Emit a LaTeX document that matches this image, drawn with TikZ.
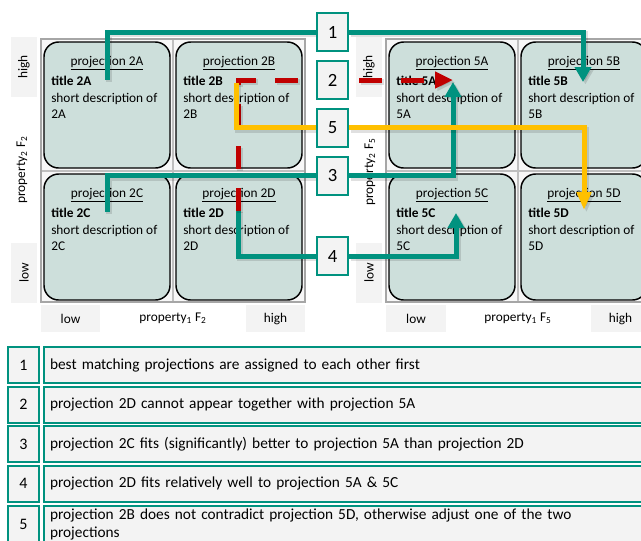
\documentclass[tikz,border=0pt]{standalone}
\usepackage{fontspec}
\setmainfont{Carlito}
\usetikzlibrary{arrows.meta}
\definecolor{tealc}{RGB}{0,146,127}
\definecolor{cellfill}{RGB}{205,223,219}
\definecolor{redc}{RGB}{192,0,0}
\definecolor{yelc}{RGB}{255,192,0}
\definecolor{lgray}{RGB}{243,243,243}
\definecolor{gridbg}{RGB}{247,247,247}
\definecolor{gridline}{RGB}{191,191,191}
\definecolor{frameline}{RGB}{166,166,166}
\pgfdeclarelayer{back}
\pgfdeclarelayer{mid}
\pgfsetlayers{back,mid,main}
\tikzset{
  cellbox/.style={draw=black, line width=1.1pt, fill=cellfill, rounded corners=11pt,
    minimum width=94.5pt, minimum height=94.5pt, inner sep=0pt},
  projlbl/.style={anchor=base, inner sep=0pt, font=\fontsize{10}{12}\selectfont},
  titlelbl/.style={anchor=base west, inner sep=0pt, font=\fontsize{10}{12}\selectfont\bfseries},
  desclbl/.style={anchor=base west, inner sep=0pt, font=\fontsize{10}{12}\selectfont},
  axlbl/.style={inner sep=0pt, font=\fontsize{10}{12}\selectfont},
  numbox/.style={draw=tealc, line width=1.5pt, fill=lgray, minimum width=23.25pt,
    minimum height=28.5pt, inner sep=0pt, font=\fontsize{14}{16}\selectfont},
  legnum/.style={draw=tealc, line width=1.5pt, fill=lgray, minimum width=23.25pt,
    minimum height=27pt, inner sep=0pt, font=\fontsize{12}{14}\selectfont},
  legtxt/.style={draw=tealc, line width=1.5pt, fill=lgray, anchor=west, text width=456pt,
    inner xsep=4.5pt, inner ysep=0pt, minimum height=27pt, align=left,
    font=\fontsize{11.5}{13.5}\selectfont},
  shadowed/.style={preaction={draw=black, opacity=0.12, line width=4.5pt,
    transform canvas={shift={(1.8pt,-1.8pt)}}}},
  redshadowed/.style={preaction={draw=black, opacity=0.12, line width=4.5pt,
    dash pattern=on 17.25pt off 14.25pt,
    transform canvas={shift={(1.8pt,-1.8pt)}}}},
  tealline/.style={draw=tealc, line width=3.75pt, shadowed},
  redline/.style={draw=redc, line width=3.75pt, dash pattern=on 17.25pt off 14.25pt, redshadowed},
  yelline/.style={draw=yelc, line width=3.75pt, shadowed},
  tealtip/.style={-{Triangle[length=11.25pt,width=12pt]}},
  redtip/.style={-{Triangle[length=13.5pt,width=12pt]}},
  yeltip/.style={-{Triangle[length=13.5pt,width=10.5pt]}},
}
\newcommand\projcell[3]{%
  \node[cellbox] (c#1) at (#2+66,#3+66) {};
  \node[projlbl] (pl#1) at (#2+66,#3+26) {\underline{projection #1}};
  \node[titlelbl] (t#1) at (#2+10,#3+46) {title #1};
  \node[desclbl] (d#1) at (#2+10,#3+63.5) {short description of};
  \node[desclbl] (e#1) at (#2+10,#3+79.5) {#1};
}
\newcommand\gridframe[2]{%
  \fill[gridbg] (#1,#2) rectangle (#1+264,#2+263);
  \draw[gridline, line width=1.2pt] (#1+132,#2) -- (#1+132,#2+263);
  \draw[gridline, line width=1.2pt] (#1,#2+132) -- (#1+264,#2+132);
  \draw[frameline, line width=2pt] (#1,#2) rectangle (#1+264,#2+263);
}
\begin{document}
\begin{tikzpicture}[x=0.75pt,y=-0.75pt]
\useasboundingbox (0,0) rectangle (641,540);
\clip (0,0) rectangle (641,540);

\begin{pgfonlayer}{back}
  \fill[white] (0,0) rectangle (641,540);
  % grids
  \gridframe{41}{39}
  \gridframe{386}{39}
  \projcell{2A}{41}{39}
  \projcell{2B}{173}{39}
  \projcell{2C}{41}{171}
  \projcell{2D}{173}{171}
  \projcell{5A}{386}{39}
  \projcell{5B}{518}{39}
  \projcell{5C}{386}{171}
  \projcell{5D}{518}{171}
  % axis label boxes
  \fill[lgray] (11,37) rectangle (37,97);
  \fill[lgray] (11,243) rectangle (37,303);
  \fill[lgray] (41,305) rectangle (100,332);
  \fill[lgray] (246,305) rectangle (305,332);
  \fill[lgray] (356,37) rectangle (382,97);
  \fill[lgray] (356,243) rectangle (382,303);
  \fill[lgray] (386,305) rectangle (446,332);
  \fill[lgray] (591,305) rectangle (650,332);
  \node[axlbl, rotate=90] (hiL) at (24,67) {high};
  \node[axlbl, rotate=90] (loL) at (24,273) {low};
  \node[axlbl, rotate=90] (prL) at (22,170) {property\textsubscript{2} F\textsubscript{2}};
  \node[axlbl] (loB) at (70.5,319) {low};
  \node[axlbl] (hiB) at (275.5,319) {high};
  \node[axlbl] (prB) at (173,318) {property\textsubscript{1} F\textsubscript{2}};
  \node[axlbl, rotate=90] (hiR) at (369,67) {high};
  \node[axlbl, rotate=90] (loR) at (369,273) {low};
  \node[axlbl, rotate=90] (prR) at (370,172) {property\textsubscript{2} F\textsubscript{5}};
  \node[axlbl] (loBR) at (416,319) {low};
  \node[axlbl] (hiBR) at (620.5,319) {high};
  \node[axlbl] (prBR) at (518,318) {property\textsubscript{1} F\textsubscript{5}};
\end{pgfonlayer}

% numbered boxes
\node[numbox] (n1) at (332.5,32) {1};
\node[numbox] (n2) at (332.5,80) {2};
\node[numbox] (n5) at (332.5,127.5) {5};
\node[numbox] (n3) at (332.5,175.5) {3};
\node[numbox] (n4) at (332.5,256) {4};

% connector end points
\coordinate (a2A) at (107,80);
\coordinate (a5B) at (583,82);
\coordinate (a2D) at (238,211);
\coordinate (a5Ar) at (453,80);
\coordinate (a2B) at (236,83);
\coordinate (a5D) at (584,210);
\coordinate (a2C) at (107,212);
\coordinate (a5At) at (453,82);
\coordinate (b2D) at (238,210);
\coordinate (a5C) at (456,213);

\begin{pgfonlayer}{mid}
  \draw[tealline] (n1.west) -| (a2A);
  \draw[tealline, tealtip] (n1.east) -| (a5B);
  \draw[tealline] (a2C) |- (n3.west);
  \draw[tealline, tealtip] (n3.east) -| (a5At);
  \draw[tealline] (b2D) |- (n4.west);
  \draw[tealline, tealtip] (n4.east) -| (a5C);
  \draw[redline, redtip] (a2D) |- (a5Ar);
  \draw[yelline] (a2B) |- (n5.west);
  \draw[yelline, yeltip] (n5.east) -| (a5D);
\end{pgfonlayer}

% legend
\node[legnum] (L1) at (23.5,365) {1};
\node[legtxt] (T1) at (43,365) {best matching projections are assigned to each other first};
\node[legnum] (L2) at (23.5,404.5) {2};
\node[legtxt] (T2) at (43,404.5) {projection 2D cannot appear together with projection 5A};
\node[legnum] (L3) at (23.5,444) {3};
\node[legtxt] (T3) at (43,444) {projection 2C fits (significantly) better to projection 5A than projection 2D};
\node[legnum] (L4) at (23.5,483.5) {4};
\node[legtxt] (T4) at (43,483.5) {projection 2D fits relatively well to projection 5A \& 5C};
\node[legnum, minimum height=27.75pt] (L5) at (23.5,524.5) {5};
\node[legtxt, minimum height=27.75pt] (T5) at (43,524.5) {projection 2B does not contradict projection 5D, otherwise adjust one of the two\\projections};
\end{tikzpicture}
\end{document}
